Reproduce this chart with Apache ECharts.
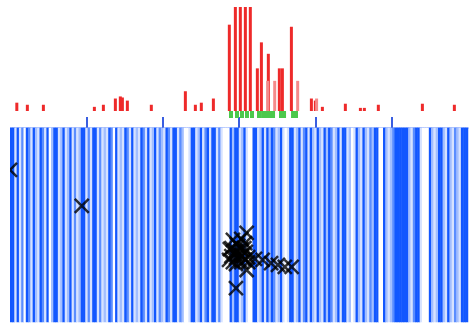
<!DOCTYPE html>
<html>
<head>
<meta charset="utf-8">
<script src="https://cdn.jsdelivr.net/npm/echarts@6/dist/echarts.min.js"></script>
<style>
  html, body { margin: 0; padding: 0; background: #fff; }
  #chart { width: 470px; height: 324px; }
</style>
</head>
<body>
<div id="chart"></div>
<script>
// Coverage track: position (axis units 0..6) and signal height (0..100, clipped at top)
var redPos = [0.111, 0.249, 0.459, 1.127, 1.245, 1.402, 1.467, 1.494, 1.559, 1.873,
              2.319, 2.450, 2.528, 2.686, 2.895, 2.974, 3.039, 3.105, 3.170, 3.262,
              3.315, 3.406, 3.550, 3.590, 3.708, 3.970, 4.022, 4.114, 4.415, 4.612,
              4.664, 4.847, 5.424, 5.843];
var redVal = [8, 6, 6, 4, 6, 12, 14, 13, 10, 6,
              19, 6, 8, 12, 83, 100, 100, 100, 100, 41,
              66, 55, 41, 41, 81, 12, 10, 4, 7, 3,
              3, 6, 7, 6];
// Secondary (paler) coverage bars
var paleRedPos = [3.354, 3.446, 3.747, 3.995];
var paleRedVal = [29, 29, 29, 12];

// Annotated feature positions (green markers)
var greenPos = [2.895, 2.974, 3.039, 3.105, 3.170, 3.262, 3.315, 3.354, 3.406, 3.446, 3.550, 3.590, 3.708, 3.747];

// Density stripes: one level (0..4) per column
var stripeLevels = [
  4,4,1,4,1,3,0,4,3,1, 4,2,1,4,3,1,4,0,2,4, 4,1,2,4,1,2,4,1,3,1, 2,4,4,1,3,1,4,4,1,3,
  1,2,1,4,3,0,4,1,2,1, 4,3,1,4,1,2,1,4,3,1, 4,1,2,4,1,3,2,1,4,3, 1,4,4,1,3,2,0,0,1,4,
  4,1,2,4,1,3,4,1,4,4, 1,3,1,0,0,0,4,2,4,4, 1,2,4,1,0,0,4,4,1,2, 4,1,4,2,4,3,1,2,4,1,
  0,1,4,4,1,2,4,1,3,4, 1,4,2,1,4,2,1,4,2,4, 3,1,2,4,1,4,4,1,2,0, 1,4,2,1,4,2,1,3,2,4,
  4,0,0,4,2,1,2,3,4,4, 4,4,4,4,2,1,3,4,4,1, 0,0,0,4,2,1,2,4,4,2, 1,4,2,1,3,2,1,4,4,4
];

// Scatter points: position (axis units 0..6) and score (0..100)
var ptX = [0.00, 0.94, 2.92, 2.97, 3.03, 3.08, 2.90, 2.96, 3.03, 3.09,
           2.90, 2.96, 3.04, 3.12, 2.92, 3.03, 3.12, 3.10, 3.10, 3.21,
           3.31, 3.42, 3.51, 3.60, 3.69, 2.96, 2.88, 2.99, 3.07, 2.95,
           3.03, 3.08, 2.87, 2.96];
var ptY = [78.4, 59.8, 42.3, 40.2, 42.8, 40.7, 38.1, 36.6, 37.6, 36.1,
           34.0, 33.0, 34.0, 33.5, 30.9, 30.9, 30.9, 45.9, 26.8, 32.5,
           32.0, 30.4, 29.4, 28.4, 28.4, 17.5, 37.6, 39.2, 38.1, 35.1,
           34.5, 32.0, 32.0, 29.9];

// Ruler positions along the track
var rulerCats = ['0', '1', '2', '3', '4', '5', '6'];

function pairs(xs, ys) {
  return xs.map(function (x, i) { return [x, ys[i]]; });
}

var stripeCats = stripeLevels.map(function (_, i) { return i; });
var stripeData = stripeLevels.map(function (v, i) { return [i, 0, v]; });
var greenData = greenPos.map(function (x) { return [x, 1]; });

var L = 10, W = 458;

var chart = echarts.init(document.getElementById('chart'), null, { renderer: 'canvas' });

chart.setOption({
  animation: false,
  backgroundColor: '#ffffff',
  grid: [
    { left: L, width: W, top: 7, height: 104 },   // coverage
    { left: L, width: W, top: 111, height: 7 },   // features
    { left: L, width: W, top: 128, height: 194 }, // stripes
    { left: L, width: W, top: 128, height: 194 }  // points
  ],
  xAxis: [
    { gridIndex: 0, type: 'value', min: 0, max: 6, show: false },
    { gridIndex: 1, type: 'value', min: 0, max: 6, show: false },
    { gridIndex: 2, type: 'category', data: stripeCats, show: false },
    { gridIndex: 3, type: 'value', min: 0, max: 6, show: false },
    {
      gridIndex: 2, type: 'category', data: rulerCats, boundaryGap: false, position: 'top',
      axisLine: { show: true, lineStyle: { color: '#86a6ff', width: 1.5 } },
      axisTick: {
        show: true, length: 11,
        interval: function (i) { return i > 0 && i < rulerCats.length - 1; },
        lineStyle: { color: '#3a5ee0', width: 2 }
      },
      axisLabel: { show: false },
      splitLine: { show: false }
    }
  ],
  yAxis: [
    { gridIndex: 0, type: 'value', min: 0, max: 100, show: false },
    { gridIndex: 1, type: 'value', min: 0, max: 1, show: false },
    { gridIndex: 2, type: 'category', data: ['0'], show: false },
    { gridIndex: 3, type: 'value', min: 0, max: 100, show: false }
  ],
  visualMap: {
    show: false,
    type: 'continuous',
    seriesIndex: 3,
    dimension: 2,
    min: 0,
    max: 4,
    inRange: { color: ['#ffffff', '#d6e2ff', '#a2beff', '#5a8dff', '#1257ff'] }
  },
  series: [
    {
      type: 'bar', xAxisIndex: 0, yAxisIndex: 0,
      data: pairs(redPos, redVal), barWidth: 3,
      itemStyle: { color: '#ee2a2a' }
    },
    {
      type: 'bar', xAxisIndex: 0, yAxisIndex: 0,
      data: pairs(paleRedPos, paleRedVal), barWidth: 3,
      itemStyle: { color: '#f58a8a' }
    },
    {
      type: 'bar', xAxisIndex: 1, yAxisIndex: 1,
      data: greenData, barWidth: 4,
      itemStyle: { color: '#4cc84c' }
    },
    {
      type: 'heatmap', xAxisIndex: 2, yAxisIndex: 2,
      data: stripeData,
      itemStyle: { borderWidth: 0 }
    },
    {
      type: 'scatter', xAxisIndex: 3, yAxisIndex: 3,
      data: pairs(ptX, ptY),
      symbol: 'path://M0,0L10,10M10,0L0,10',
      symbolSize: 14,
      itemStyle: { color: 'none', borderColor: '#000000', borderWidth: 2.5 },
      z: 10
    }
  ],
  graphic: [
    { type: 'rect', left: 0, top: 124, shape: { width: L, height: 200 },
      style: { fill: '#ffffff' }, z: 100 }
  ]
});
</script>
</body>
</html>
